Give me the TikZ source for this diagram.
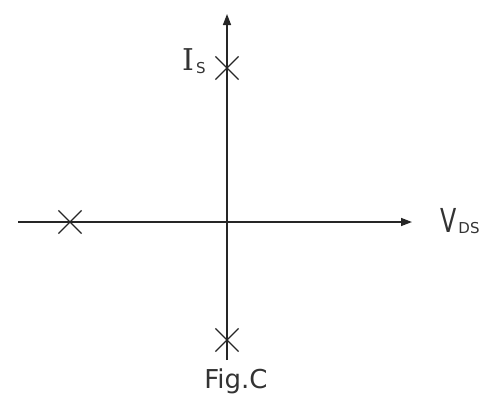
\documentclass[tikz,border=0pt]{standalone}
\usepackage{fontspec}
\setmainfont{DejaVu Sans}
\newfontfamily\serfam{DejaVu Serif}
\usetikzlibrary{shapes.misc,arrows.meta}
\begin{document}
\begin{tikzpicture}[x=1pt,y=-1pt,
  axis/.style={line width=1.4pt,draw=black!85,-{Triangle[length=11pt,width=8pt]}},
  pole/.style={cross out,draw=black!85,line width=1.2pt,minimum size=22pt,inner sep=0pt},
  lab/.style={inner sep=0pt,text=black!80}]
\useasboundingbox (0,0) rectangle (486,405);
\coordinate (vb) at (227,360);
\coordinate (vt) at (227,14);
\coordinate (hl) at (18,222);
\coordinate (hr) at (412,222);
\draw[axis] (vb) -- (vt);
\draw[axis] (hl) -- (hr);
\node[pole] (p1) at (227,68) {};
\node[pole] (p2) at (70,222) {};
\node[pole] (p3) at (227,340) {};
\node[lab,anchor=base west] (is) at (182,70) {{\serfam\fontsize{30}{32}\selectfont I}\hspace{2pt}\raisebox{-3pt}{\fontsize{15}{17}\selectfont S}};
\node[lab,anchor=base west] (vds) at (440,232) {\scalebox{0.72}[1]{\fontsize{33}{35}\selectfont V}\hspace{2pt}\raisebox{-1pt}{\fontsize{15}{17}\selectfont DS}};
\node[lab,anchor=base] (fig) at (236,388) {\fontsize{26}{28}\selectfont Fig.C};
\end{tikzpicture}
\end{document}
